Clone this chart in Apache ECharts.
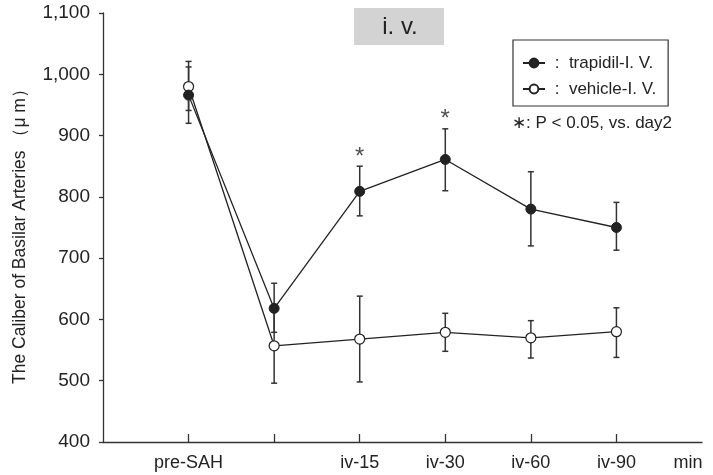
<!DOCTYPE html>
<html>
<head>
<meta charset="utf-8">
<script src="https://cdn.jsdelivr.net/npm/echarts@6/dist/echarts.min.js"></script>
<style>html,body{margin:0;padding:0;background:#fff}#c{width:713px;height:475px}</style>
</head>
<body>
<div id="c"></div>
<script>
// Category tick labels (blank slots at both ends give the axis margin)
var tickLabels = ['', 'pre-SAH', '', 'iv-15', 'iv-30', 'iv-60', 'iv-90', ''];
var pointIndex = [1, 2, 3, 4, 5, 6];

var trapidilMean = [966, 618, 809, 861, 780, 750];
var trapidilHigh = [1012, 659, 850, 911, 841, 791];
var trapidilLow  = [920, 579, 769, 810, 720, 713];

var vehicleMean = [980, 557, 568, 579, 570, 580];
var vehicleHigh = [1021, 618, 638, 610, 598, 619];
var vehicleLow  = [941, 496, 498, 548, 537, 538];

// significance markers (index into points) for trapidil
var sigPoints = [2, 3];

var FONT = 'Liberation Sans, Arial, sans-serif';
var INK = '#222';

function pairs(vals) { return vals.map(function (v, i) { return [pointIndex[i], v]; }); }
function errData(lo, hi) { return lo.map(function (v, i) { return [pointIndex[i], v, hi[i]]; }); }

function errRender(params, api) {
  var x = api.value(0);
  var lo = api.coord([x, api.value(1)]);
  var hi = api.coord([x, api.value(2)]);
  var w = 3;
  var style = { stroke: '#333', lineWidth: 1.5 };
  return {
    type: 'group',
    children: [
      { type: 'line', shape: { x1: lo[0], y1: lo[1], x2: hi[0], y2: hi[1] }, style: style },
      { type: 'line', shape: { x1: lo[0] - w, y1: lo[1], x2: lo[0] + w, y2: lo[1] }, style: style },
      { type: 'line', shape: { x1: hi[0] - w, y1: hi[1], x2: hi[0] + w, y2: hi[1] }, style: style }
    ]
  };
}

var chart = echarts.init(document.getElementById('c'), null, { renderer: 'canvas' });
chart.setOption({
  animation: false,
  backgroundColor: '#fff',
  grid: { left: 103, right: 11, top: 13, bottom: 33, containLabel: false },
  xAxis: {
    type: 'category',
    data: tickLabels,
    boundaryGap: false,
    axisLine: { lineStyle: { color: '#333', width: 1.3 } },
    axisTick: {
      inside: true, length: 8, lineStyle: { color: '#333', width: 1.3 },
      interval: function (i) { return i >= 1 && i <= 6; }
    },
    axisLabel: {
      interval: 0, margin: 12, color: INK, fontSize: 18, fontFamily: FONT
    },
    splitLine: { show: false }
  },
  yAxis: {
    type: 'value',
    min: 400, max: 1100, interval: 100,
    axisLine: { show: true, lineStyle: { color: '#333', width: 1.3 } },
    axisTick: { show: true, length: 4, lineStyle: { color: '#333', width: 1.3 } },
    axisLabel: { margin: 13, color: INK, fontSize: 19, fontFamily: FONT },
    splitLine: { show: false }
  },
  legend: {
    data: ['trapidil-I. V.', 'vehicle-I. V.'],
    orient: 'vertical',
    left: 513, top: 40,
    padding: [14, 12, 8, 9],
    borderColor: '#333', borderWidth: 1.2,
    itemWidth: 22, itemHeight: 11, itemGap: 8,
    formatter: function (n) { return ' :  ' + n; },
    textStyle: { color: INK, fontSize: 17, fontFamily: FONT, lineHeight: 18 }
  },
  graphic: [
    { type: 'rect', shape: { x: 354, y: 8, width: 90, height: 37 }, style: { fill: '#d3d3d3' } },
    { type: 'text', x: 400, y: 27, style: { text: 'i. v.', fill: INK, fontSize: 24, fontFamily: FONT, align: 'center', verticalAlign: 'middle' } },
    { type: 'text', x: 512, y: 123, style: { text: '\u2217: P < 0.05, vs. day2', fill: INK, fontSize: 17, fontFamily: FONT, align: 'left', verticalAlign: 'middle' } },
    { type: 'text', x: 20, y: 232, rotation: Math.PI / 2, style: { text: 'The Caliber of Basilar Arteries \uFF08\u03BC m\uFF09', fill: INK, fontSize: 17.5, fontFamily: FONT, align: 'center', verticalAlign: 'middle' } },
    { type: 'text', x: 688, y: 463, style: { text: 'min', fill: INK, fontSize: 18, fontFamily: FONT, align: 'center', verticalAlign: 'middle' } }
  ],
  series: [
    { name: 'vehicleErr', type: 'custom', renderItem: errRender, data: errData(vehicleLow, vehicleHigh), z: 1 },
    { name: 'trapidilErr', type: 'custom', renderItem: errRender, data: errData(trapidilLow, trapidilHigh), z: 1 },
    {
      name: 'vehicle-I. V.', type: 'line', data: pairs(vehicleMean), z: 3,
      symbol: 'circle', symbolSize: 10, showAllSymbol: true,
      lineStyle: { color: INK, width: 1.3 },
      itemStyle: { color: '#fff', borderColor: INK, borderWidth: 1.2 }
    },
    {
      name: 'trapidil-I. V.', type: 'line', data: pairs(trapidilMean), z: 4,
      symbol: 'circle', symbolSize: 10, showAllSymbol: true,
      lineStyle: { color: INK, width: 1.3 },
      itemStyle: { color: INK, borderColor: INK, borderWidth: 1 }
    },
    {
      name: 'sig', type: 'scatter', symbolSize: 0, z: 5,
      data: sigPoints.map(function (i) { return [pointIndex[i], trapidilHigh[i]]; }),
      label: { show: true, position: 'top', distance: -3, formatter: '*', color: INK, fontSize: 24, fontFamily: FONT }
    }
  ]
});
</script>
</body>
</html>
